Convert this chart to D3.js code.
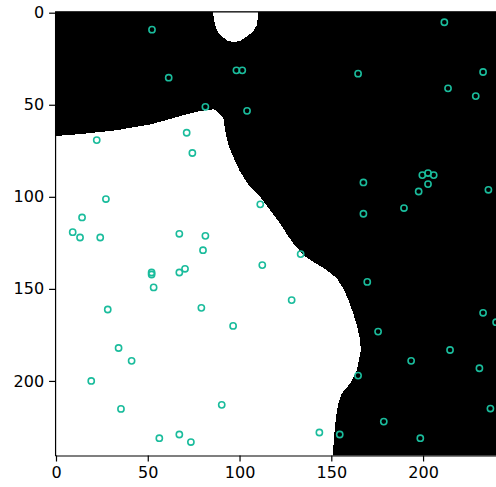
<!DOCTYPE html>
<html>
<head>
<meta charset="utf-8">
<script src="https://cdn.jsdelivr.net/npm/d3@7/dist/d3.min.js"></script>
<style>
  html, body { margin: 0; padding: 0; background: #fff; overflow: hidden; }
  svg { display: block; }
  .tick text { font-family: "DejaVu Sans", sans-serif; font-size: 16px; fill: #000; }
</style>
</head>
<body>
<svg id="chart" width="496" height="487"></svg>
<script>
// ---- data ----
const tickValues = [0, 50, 100, 150, 200];

const pointX = [52.3, 61.4, 98.3, 101.5, 81.4, 104.1, 71.2, 22.2, 74.3, 27.2, 14.2, 9.1, 13.1, 24.1, 67.2, 81.4, 80.1,
  52.1, 52.1, 67.2, 70.3, 53.2, 28.2, 79.2, 96.5, 34.1, 41.2, 19.2, 35.4, 90.3, 56.3, 67.2, 73.5,
  211.6, 164.6, 232.7, 213.6, 228.7, 199.6, 202.7, 205.8, 202.7, 197.6, 235.6, 167.5, 189.6, 167.5, 111.3,
  133.3, 112.4, 128.4, 169.6, 175.5, 232.7, 239.8, 214.7, 193.5, 230.7, 164.6, 236.7, 178.6, 143.5, 154.6, 198.5];
const pointY = [9.2, 35.3, 31.3, 31.3, 51.1, 53.3, 65.2, 69.2, 76.2, 101.2, 111.2, 119.2, 122.1, 122.1, 120.1, 121.2, 129,
  141.1, 142.2, 141.1, 139.1, 149.2, 161.2, 160.3, 170.1, 182.1, 189.1, 200, 215.2, 213, 231.1, 229.1, 233.2,
  5.2, 33.1, 32.2, 41.1, 45.3, 88.2, 87.1, 88.2, 93.1, 97.1, 96.2, 92.2, 106.1, 109.2, 104.1,
  131.1, 137.1, 156.1, 146.2, 173.2, 163, 168.1, 183.2, 189.1, 193.1, 197.1, 215, 222.1, 228, 229.1, 231.1];

// boundary of the large white region (left/bottom)
const mainBoundaryX = [-0.5, -0.5, 14.9, 33.1, 51.2, 60.3, 69.4, 78.5, 85.7, 87.5, 91.2, 92.1, 93.9, 96.6, 100.3, 105.7,
  111.2, 116.6, 122.1, 126.6, 129.3, 134.8, 140.2, 147.5, 153, 156.6, 159.3, 162, 164.2, 165.7, 166.1, 165.7,
  163.9, 160.2, 155.7, 153.8, 152.6, 151.5, 150.8];
const mainBoundaryY = [240.5, 67.0, 65.8, 63.8, 60.7, 58.3, 55.6, 53.4, 52.5, 53.3, 57.4, 63.8, 71.9, 78.3, 86.4, 94.6,
  100, 107.2, 114.5, 121.5, 125.3, 131.7, 135.3, 139.8, 144.3, 149.8, 156.1, 163.4, 170.7, 177.9, 183.3, 185.1,
  194.2, 201.4, 206.8, 212.3, 219.6, 230.4, 240.5];

// boundary of the small white region at the top
const blobBoundaryX = [85.2, 85.7, 86.6, 88.1, 90.3, 93.9, 97, 100.3, 103.9, 107.5, 109.4, 110.2, 110.2];
const blobBoundaryY = [-0.5, 1.25, 6.7, 10.2, 13, 15.4, 15.9, 15.4, 13, 10.2, 6.7, 1.25, -0.5];

const extent = [-0.5, 240.5];

// ---- chart ----
const svg = d3.select("#chart");
const x = d3.scaleLinear().domain(extent).range([55.08, 497.4]);
const y = d3.scaleLinear().domain(extent).range([11.78, 455.5]);

const plot = svg.append("g");

plot.append("rect")
  .attr("x", x(extent[0])).attr("y", y(extent[0]))
  .attr("width", x(extent[1]) - x(extent[0]))
  .attr("height", y(extent[1]) - y(extent[0]))
  .attr("fill", "#000");

const line = d3.line().x(d => x(d[0])).y(d => y(d[1]));
const mainPts = mainBoundaryX.map((v, i) => [v, mainBoundaryY[i]]);
const blobPts = blobBoundaryX.map((v, i) => [v, blobBoundaryY[i]]);

plot.append("path").attr("d", line(mainPts) + "Z").attr("fill", "#fff").attr("shape-rendering", "crispEdges");
plot.append("path").attr("d", line(blobPts) + "Z").attr("fill", "#fff").attr("shape-rendering", "crispEdges");

plot.selectAll("circle.pt")
  .data(pointX.map((v, i) => [v, pointY[i]]))
  .join("circle")
  .attr("class", "pt")
  .attr("cx", d => x(d[0]))
  .attr("cy", d => y(d[1]))
  .attr("r", 3.1)
  .attr("fill", "none")
  .attr("stroke", "#1abc9c")
  .attr("stroke-width", 1.6);

// axes
const xAxis = d3.axisBottom(x).tickValues(tickValues).tickSize(6).tickPadding(5).tickSizeOuter(0);
const yAxis = d3.axisLeft(y).tickValues(tickValues).tickSize(6).tickPadding(5).tickSizeOuter(0);

const gx = svg.append("g").attr("transform", `translate(0,${y(extent[1])})`).call(xAxis);
const gy = svg.append("g").attr("transform", `translate(${x(extent[0])},0)`).call(yAxis);

[gx, gy].forEach(g => {
  g.select(".domain").attr("stroke", "#000").attr("stroke-width", 1.2);
  g.selectAll(".tick line").attr("stroke", "#000").attr("stroke-width", 1.2);
});

// top spine
svg.append("line")
  .attr("x1", x(extent[0])).attr("x2", x(extent[1]))
  .attr("y1", y(extent[0])).attr("y2", y(extent[0]))
  .attr("stroke", "#000").attr("stroke-width", 1.2);
</script>
</body>
</html>
